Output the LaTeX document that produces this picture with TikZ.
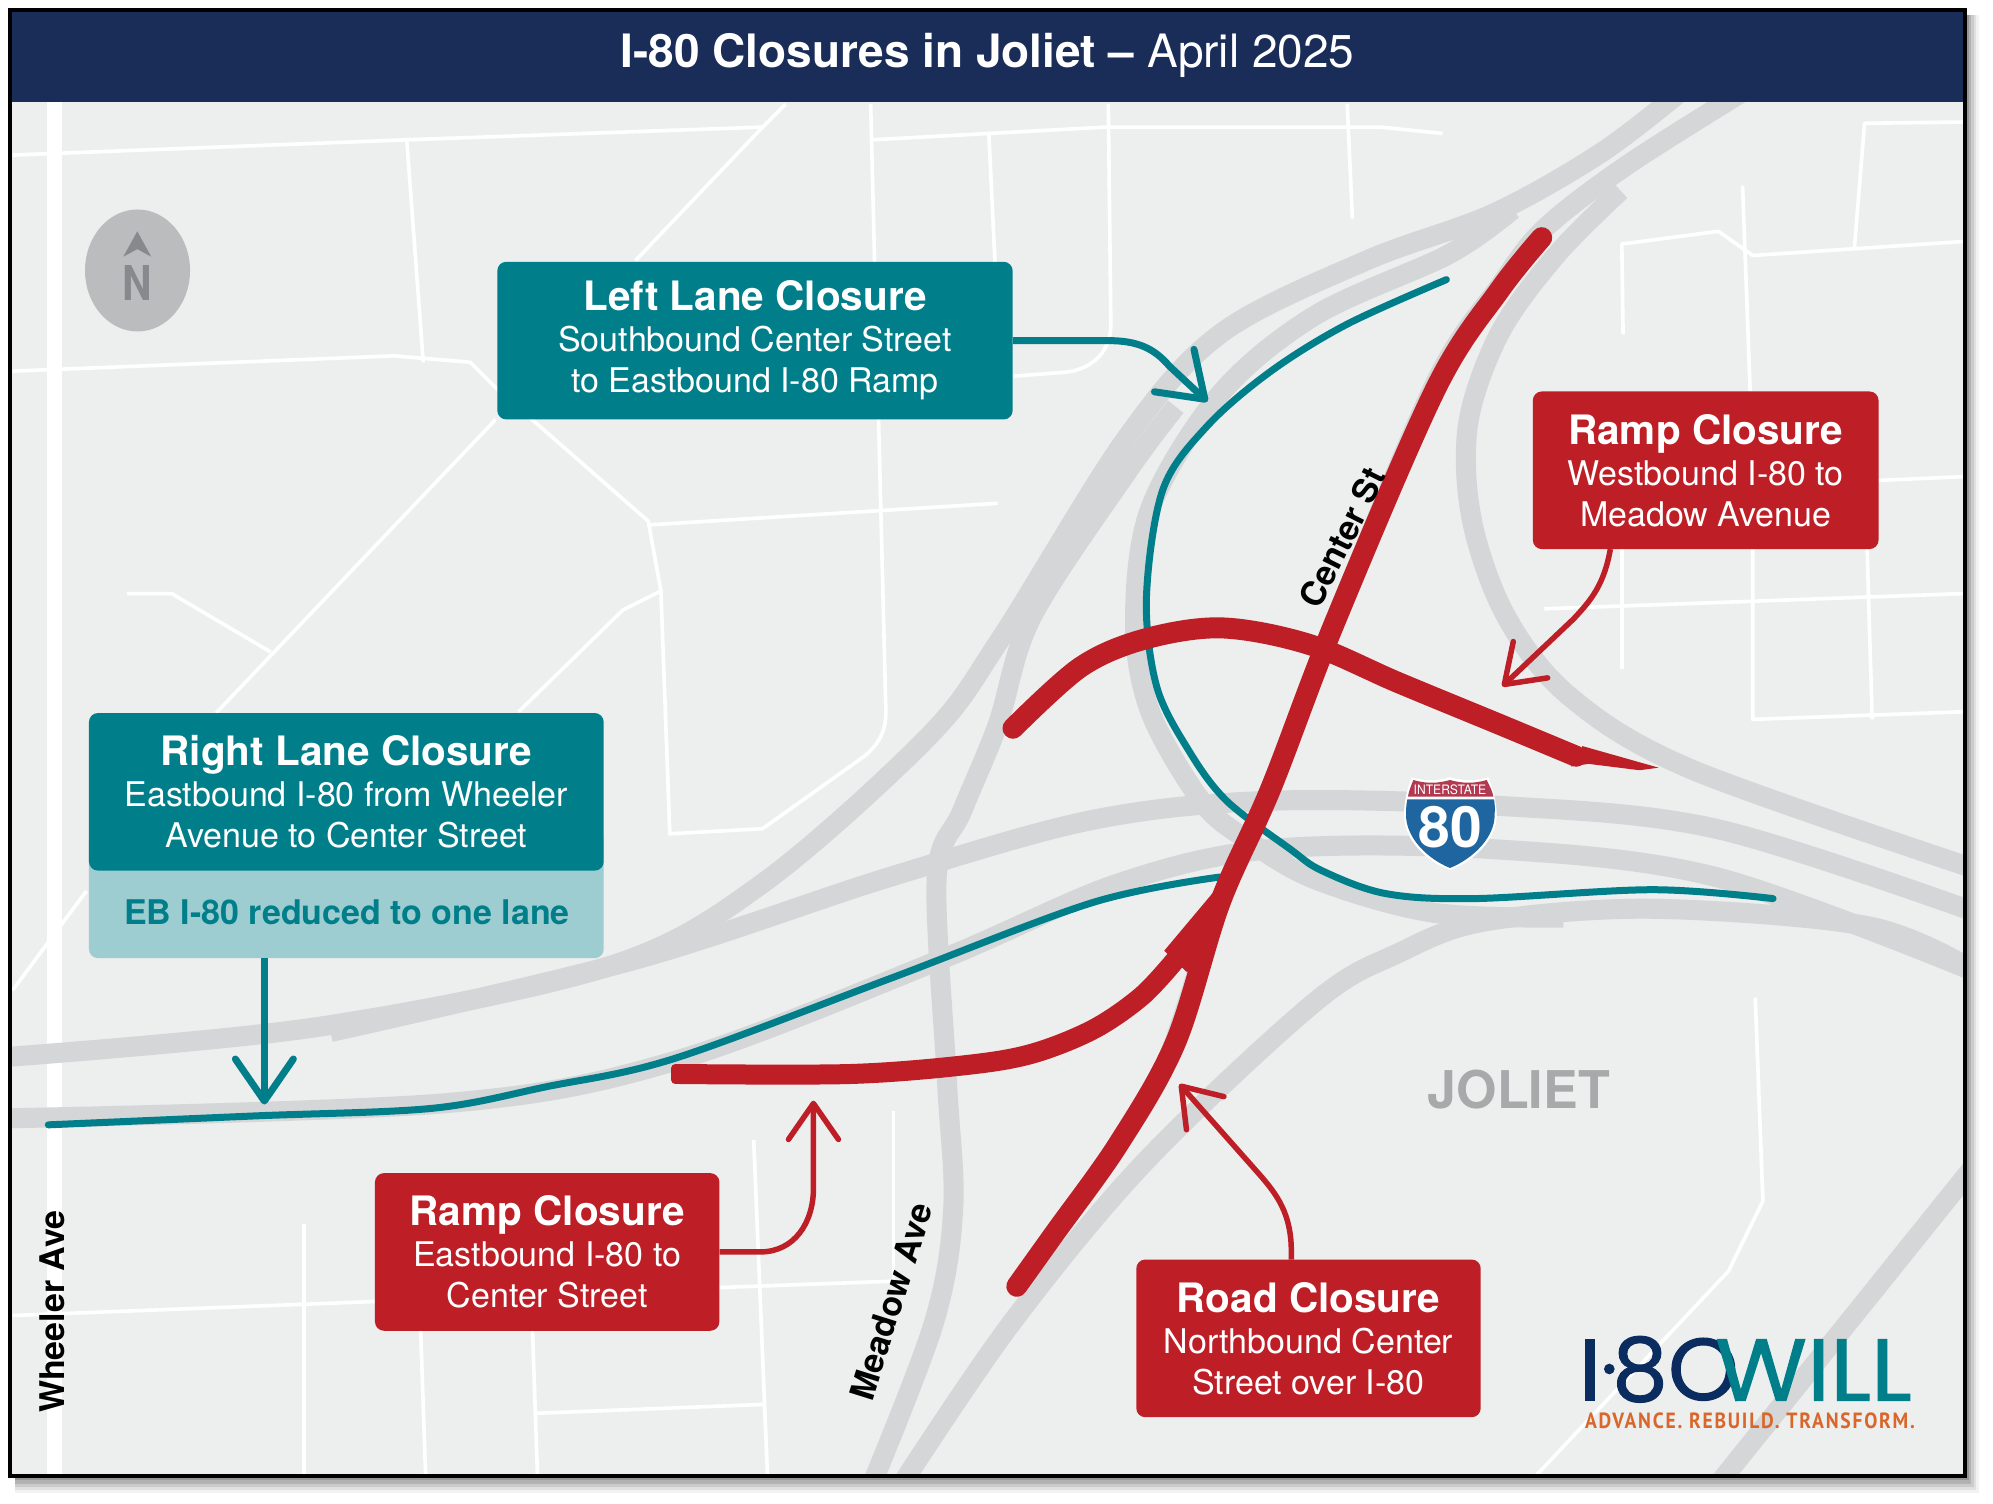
\documentclass[tikz,border=0pt]{standalone}
\usepackage{fontspec}
\setmainfont{TeX Gyre Heros}
\newfontfamily\logofont{Poppins}[FakeBold=1.2]
\newfontfamily\tagfont{PT Sans}[LetterSpace=9,BoldFont={PT Sans Bold}]
\usetikzlibrary{arrows.meta,shapes.geometric,calc}
\definecolor{mapbg}{HTML}{EDEEEE}
\definecolor{navy}{HTML}{1A2C58}
\definecolor{greyroad}{HTML}{D5D6D8}
\definecolor{tealc}{HTML}{007F8B}
\definecolor{lightteal}{HTML}{9DCDD1}
\definecolor{redc}{HTML}{BE1E26}
\definecolor{logonavy}{HTML}{0B2C5E}
\definecolor{logoorange}{HTML}{D9672B}
\definecolor{compassbg}{HTML}{BBBCBE}
\definecolor{compassfg}{HTML}{88898D}
\definecolor{shieldblue}{HTML}{1F66A0}
\definecolor{shieldred}{HTML}{B23A50}
\tikzset{
  road/.style={draw=greyroad,line width=20pt,line join=round},
  local/.style={draw=white,line width=3.6pt,line join=round},
  closure/.style={draw=redc,line width=21pt,line cap=round,line join=round},
  tealroad/.style={draw=tealc,line width=7pt,line join=round},
  calloutteal/.style={draw=tealc,line width=7pt,line join=round,
     -{Straight Barb[length=42pt,width=58pt,round]}},
  calloutred/.style={draw=redc,line width=5.5pt,line join=round,
     -{Straight Barb[length=36pt,width=50pt,round]}},
  box/.style={rectangle,rounded corners=9pt,text=white,align=center,inner sep=0pt,
     font=\fontsize{34}{41}\selectfont},
  streetlabel/.style={text=black,font=\fontsize{34}{40}\selectfont\bfseries,inner sep=0pt},
  smoothline/.style={smooth,tension=0.55},
}
\newcommand{\boxhead}[1]{{\fontsize{40.5}{41}\selectfont\bfseries\vphantom{g}#1}}
\begin{document}
\begin{tikzpicture}[x=1.271pt,y=-1.271pt,line cap=butt]
\useasboundingbox (0,0) rectangle (1568.06,1183.3);
\fill[white] (0,0) rectangle (1568.06,1183.3);
% frame shadow
\foreach \o/\a in {10/0.05,8/0.07,6/0.09,4/0.12,2/0.16}{
  \fill[black,opacity=\a] (12,12) rectangle (1547+\o,1162+1.3*\o);
}
\fill[mapbg] (9.44,9.44) rectangle (1544.5,1159.7);
\begin{scope}
\clip (9.44,80) rectangle (1544.5,1159.7);
% white local roads
\draw[local] (10,122) -- (320,110) -- (600,100) -- (618,82);
\draw[local] (320,110) -- (333,285);
\draw[local] (10,292) -- (310,280) -- (370,285) -- (390,305) -- (510,410) -- (520,465) -- (527,656) -- (600,652) -- (680,595) .. controls (692,585) and (697,575) .. (697,560) -- (685,82);
\draw[local] (510,413) -- (785,396);
\draw[local] (600,100) -- (500,205);
\draw[local] (390,330) -- (170,561);
\draw[local] (68,701) -- (10,779);
\draw[local] (100,467) -- (135,467) -- (213,513);
\draw[local] (520,465) -- (490,480) -- (408,560);
\draw[local] (686,110) -- (870,100) -- (1086,100) -- (1135,105);
\draw[local] (778,105) -- (783,210);
\draw[local] (872,82) -- (874,255) .. controls (874,280) and (855,292) .. (836,293) -- (797,296);
\draw[local] (1060,82) -- (1064,172);
\draw[local] (1545,96) -- (1467,97) -- (1459,195);
\draw[local] (1277,263) -- (1276,192) -- (1352,182) -- (1379,201) -- (1545,190);
\draw[local] (1371,146) -- (1377,308);
\draw[local] (1379,432) -- (1379,566) -- (1545,560);
\draw[local] (1215,479) -- (1545,467);
\draw[local] (1276,432) -- (1276,526);
\draw[local] (1469,432) -- (1473,566);
\draw[local] (1478,378) -- (1545,375);
\draw[local] (10,1035) -- (295,1024);
\draw[local] (566,1013) -- (703,1008);
\draw[local] (239,963) -- (239,1165);
\draw[local] (593,897) -- (604,1165);
\draw[local] (331,1047) -- (335,1165);
\draw[local] (419,1047) -- (423,1165);
\draw[local] (420,1112) -- (600,1105);
\draw[local] (703,874) -- (703,1008);
\draw[local] (1381,785) -- (1387,945) -- (1360,1000) -- (1200,1170);
% Wheeler
\draw[draw=white,line width=15pt] (43,75) -- (43,1165);
% grey roads
\draw[road] plot[smoothline] coordinates {(0,832) (250,808) (480,760) (600,695) (730,580) (787,503) (886,345) (961,262) (1075,205) (1175,168) (1260,120) (1325,70)};
\draw[road] plot[smoothline] coordinates {(260,812) (500,755) (700,690) (860,645) (1000,630) (1179,634) (1350,652) (1555,718)};
\draw[road] plot[smoothline] coordinates {(0,880) (350,868) (530,835) (740,755) (880,695) (1000,668) (1173,668) (1350,690) (1555,765)};
\draw[road] plot[smoothline] coordinates {(685,1170) (735,1040) (750,950) (745,850) (737,690) (757,638) (785,570) (812,485) (887,371) (925,320)};
\draw[road] plot[smoothline] coordinates {(708,1170) (795,1042) (900,915) (1035,788) (1100,750) (1168,725) (1300,715) (1471,729) (1555,765)};
\draw[road] plot[smoothline] coordinates {(1190,165) (1140,200) (1035,248) (960,310) (905,400) (893,490) (905,560) (945,630) (980,660) (1035,692) (1127,718) (1230,722)};
\draw[road] plot[smoothline] coordinates {(800,1012) (880,900) (920,830) (960,710) (1000,620) (1050,490) (1130,300) (1180,225) (1215,180) (1280,130) (1375,70)};
\draw[road] plot[smoothline] coordinates {(1275,150) (1225,200) (1180,262) (1155,334) (1158,409) (1185,485) (1235,548) (1330,605) (1555,684)};
\draw[road] (1555,915) -- (1350,1170);
% teal roads
\draw[tealroad,line cap=round] plot[smoothline] coordinates {(1138,220) (1060,255) (1000,292) (950,335) (915,385) (902,470) (910,540) (935,590) (965,630) (1015,668) (1040,685) (1090,703) (1160,707) (1300,700) (1395,707)};
\draw[tealroad,line cap=round] plot[smoothline] coordinates {(38,885) (200,878) (340,872) (430,855) (530,833) (700,770) (860,710) (960,690)};
% red closures
\draw[closure] plot[smoothline] coordinates {(1213,187) (1180,228) (1130,305) (1050,490) (1000,620) (960,710) (925,820) (880,900) (830,970) (800,1012)};
\draw[closure] plot[smoothline] coordinates {(797,573) (850,525) (900,503) (961,494) (1030,507) (1100,537) (1180,570) (1240,595)};
\fill[redc] (1245,587) -- (1305,604) -- (1290,606) -- (1250,601) -- (1236,603) -- cycle;
\draw[closure,line width=20pt,line cap=butt] plot[smoothline] coordinates {(535,845) (669,845) (760,838) (812,829) (860,810) (898,784) (925,755)};
\fill[redc] (916,748) -- (963,692) -- (960,725) -- (934,765) -- cycle;
\fill[redc,rounded corners=4pt] (528,837.2) rectangle (548,852.8);
\end{scope}
% title bar
\node[fill=navy,minimum width=1535.06*1.271pt,minimum height=70.9*1.271pt,inner sep=0pt,anchor=north west] (titlebar) at (9.44,9.44) {};
\node[text=white,inner sep=0pt,font=\fontsize{46}{46}\selectfont] (title) at (777,43.5) {\textbf{I-80 Closures in Joliet –} April 2025};
% compass
\node[ellipse,fill=compassbg,minimum width=105pt,minimum height=122pt,inner sep=0pt] (compass) at (108.2,212.8) {};
\fill[compassfg] (108,182) -- (119,202) -- (108,196) -- (97,202) -- cycle;
\node[text=compassfg,font=\fontsize{48}{48}\selectfont\bfseries,xscale=0.85,inner sep=0pt] (north) at (108,223) {N};
% street labels
\node[streetlabel,rotate=63.4] (centerst) at (1056,423) {Center St};
\node[streetlabel,rotate=72.6] (meadow) at (701,1024) {Meadow Ave};
\node[streetlabel,rotate=90] (wheeler) at (41,1032) {Wheeler Ave};
\node[text=compassbg!90!black,font=\fontsize{52}{52}\selectfont\bfseries,inner sep=0pt] (joliet) at (1195,857) {JOLIET};
% boxes
\node[box,fill=tealc,minimum width=405.5*1.271pt,minimum height=124*1.271pt] (leftlane) at (594,268)
  {\boxhead{Left Lane Closure}\\Southbound Center Street\\to Eastbound I-80 Ramp};
\node[box,fill=lightteal,minimum width=405*1.271pt,minimum height=100*1.271pt,anchor=south] (rightlow) at (272.5,754) {};
\node[text=tealc,font=\fontsize{34}{41}\selectfont\bfseries,inner sep=0pt] (reduced) at (273,718) {EB I-80 reduced to one lane};
\node[box,fill=tealc,minimum width=405*1.271pt,minimum height=124*1.271pt] (rightlane) at (272.5,623)
  {\boxhead{Right Lane Closure}\\Eastbound I-80 from Wheeler\\Avenue to Center Street};
\node[box,fill=redc,minimum width=272*1.271pt,minimum height=124*1.271pt] (rampw) at (1342,370)
  {\boxhead{Ramp Closure}\\Westbound I-80 to\\Meadow Avenue};
\node[box,fill=redc,minimum width=271*1.271pt,minimum height=124*1.271pt] (rampe) at (430.5,985)
  {\boxhead{Ramp Closure}\\Eastbound I-80 to\\Center Street};
\node[box,fill=redc,minimum width=271*1.271pt,minimum height=124*1.271pt] (roadc) at (1029.5,1053)
  {\boxhead{Road Closure}\\Northbound Center\\Street over I-80};
% callouts
\coordinate (a1) at (950,316);
\coordinate (a2) at (208,869);
\coordinate (a3) at (1182,540);
\coordinate (a4) at (640,866);
\coordinate (a5) at (928,853);
\coordinate (s2) at (208,754);
\coordinate (s3) at (1267,432);
\coordinate (s5) at (1016,991);
\draw[calloutteal] (leftlane.east) -- (872,268) .. controls (895,268) and (908,274) .. (920,288) -- (a1);
\draw[calloutteal] (s2) -- (a2);
\draw[calloutred] (s3) .. controls (1262,460) and (1252,472) .. (1238,487) -- (a3);
\draw[calloutred] (rampe.east) -- (598,985) .. controls (625,985) and (640,962) .. (640,935) -- (a4);
\draw[calloutred] (s5) -- (1016,985) .. controls (1016,955) and (1005,940) .. (990,923) -- (a5);
% shield
\begin{scope}[x=0.3333pt,y=-0.3333pt,xshift=1350pt,yshift=-740pt]
\fill[white] (185,112) .. controls (230,125) and (265,122) .. (300,112) .. controls (335,122) and (370,125) .. (415,112) .. controls (430,150) and (440,190) .. (440,225) .. controls (440,300) and (370,365) .. (300,390) .. controls (230,365) and (162,300) .. (162,225) .. controls (162,190) and (170,150) .. cycle;
\fill[shieldblue] (172,178) -- (432,178) .. controls (436,195) and (434,215) .. (434,225) .. controls (434,295) and (365,358) .. (300,384) .. controls (235,358) and (168,295) .. (168,225) .. controls (168,215) and (168,195) .. cycle;
\fill[shieldred] (190,120) .. controls (230,132) and (265,130) .. (300,120) .. controls (335,130) and (370,132) .. (410,120) .. controls (420,140) and (428,155) .. (430,170) -- (174,170) .. controls (176,155) and (182,140) .. cycle;
\node[text=white,font=\fontsize{13}{13}\selectfont,xscale=0.93,inner sep=0pt] (shieldtop) at (300,150) {INTERSTATE};
\node[text=white,font=\fontsize{57}{57}\selectfont\bfseries,inner sep=0pt] (shieldnum) at (302,260) {80};
\end{scope}
% logo
\begin{scope}[x=0.3333pt,y=-0.3333pt,xshift=1500pt,yshift=-1290pt]
\fill[logonavy] (255,148) rectangle (285,332);
\fill[logonavy] (328,237) circle[radius=16];
\node[text=logonavy,font=\logofont\fontsize{88}{88}\selectfont,inner sep=0pt] (l8) at (420,238) {8};
\node[text=logonavy,font=\logofont\fontsize{88}{88}\selectfont,xscale=1.02,inner sep=0pt] (l0) at (610,238) {O};
\node[text=tealc,font=\logofont\fontsize{88}{88}\selectfont,xscale=1.07,inner sep=0pt,anchor=west] (lwill) at (645,240) {WILL};
\node[text=logoorange,font=\tagfont\fontsize{22}{22}\selectfont\bfseries,xscale=0.89,inner sep=0pt] (ltag) at (750,392) {ADVANCE. REBUILD. TRANSFORM.};
\end{scope}
% frame
\draw[black,line width=4pt] (7.87,7.87) rectangle (1546,1161.3);
\end{tikzpicture}
\end{document}
